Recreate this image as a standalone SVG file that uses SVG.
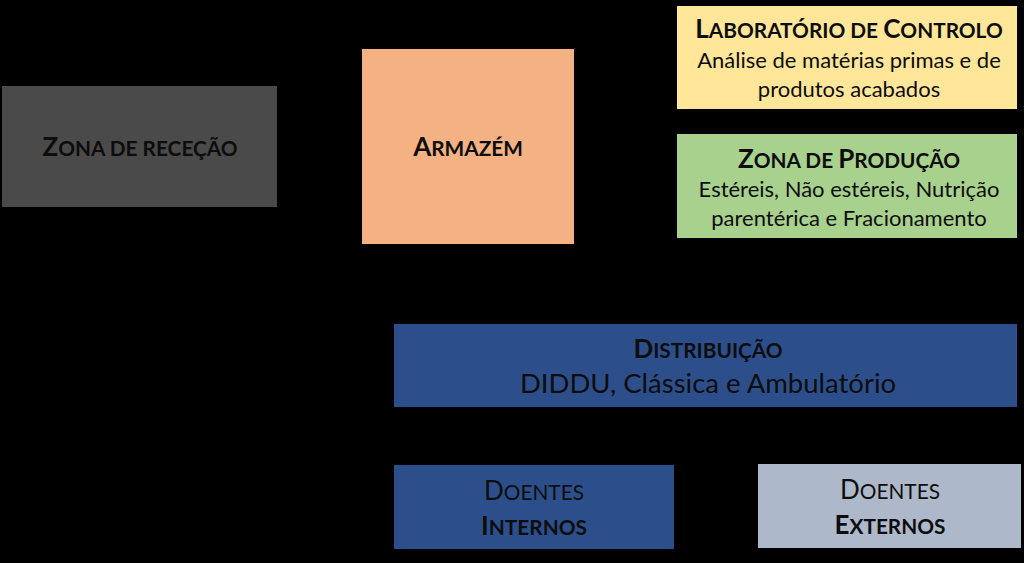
<svg xmlns="http://www.w3.org/2000/svg" width="1024" height="563" viewBox="0 0 1024 563">
<style>
text{font-family:Lato,"Open Sans","Liberation Sans",sans-serif;fill:#0d0d0d;text-anchor:middle}
.t{font-weight:bold;font-size:26px}
.s{font-size:22px}
.d{font-size:26px}
.sc{font-size:80%}
</style>
<rect x="0" y="0" width="1024" height="563" fill="#000"/>
<g id="zona-rececao">
<rect x="2" y="86" width="275" height="121" fill="#4a4a4a"/>
<text class="t" x="140" y="156">Z<tspan class="sc">ONA DE RECEÇÃO</tspan></text>
</g>
<g id="armazem">
<rect x="362" y="49" width="212" height="195" fill="#f4b183"/>
<text class="t" x="468" y="156">A<tspan class="sc">RMAZÉM</tspan></text>
</g>
<g id="laboratorio">
<rect x="677" y="6" width="340" height="103" fill="#ffe699"/>
<text class="t" x="849" y="38">L<tspan class="sc">ABORATÓRIO DE </tspan>C<tspan class="sc">ONTROLO</tspan></text>
<text class="s" x="849" y="68">Análise de matérias primas e de</text>
<text class="s" x="849" y="97">produtos acabados</text>
</g>
<g id="producao">
<rect x="677" y="134" width="340" height="104" fill="#a9d18e"/>
<text class="t" x="849" y="168">Z<tspan class="sc">ONA DE </tspan>P<tspan class="sc">RODUÇÃO</tspan></text>
<text class="s" x="849" y="197">Estéreis, Não estéreis, Nutrição</text>
<text class="s" x="849" y="226">parentérica e Fracionamento</text>
</g>
<g id="distribuicao">
<rect x="394" y="324" width="623" height="83" fill="#2c4f8c"/>
<text class="t" x="708" y="358">D<tspan class="sc">ISTRIBUIÇÃO</tspan></text>
<text x="708" y="393" style="font-size:27.5px">DIDDU, Clássica e Ambulatório</text>
</g>
<g id="doentes-internos">
<rect x="394" y="465" width="280" height="84" fill="#2c4f8c"/>
<text class="d" x="534" y="500">D<tspan class="sc">OENTES</tspan></text>
<text class="t" x="534" y="535">I<tspan class="sc">NTERNOS</tspan></text>
</g>
<g id="doentes-externos">
<rect x="758" y="464" width="263" height="84" fill="#adb9ca"/>
<text class="d" x="890" y="499">D<tspan class="sc">OENTES</tspan></text>
<text class="t" x="890" y="534">E<tspan class="sc">XTERNOS</tspan></text>
</g>
<g id="connectors"></g>
</svg>
